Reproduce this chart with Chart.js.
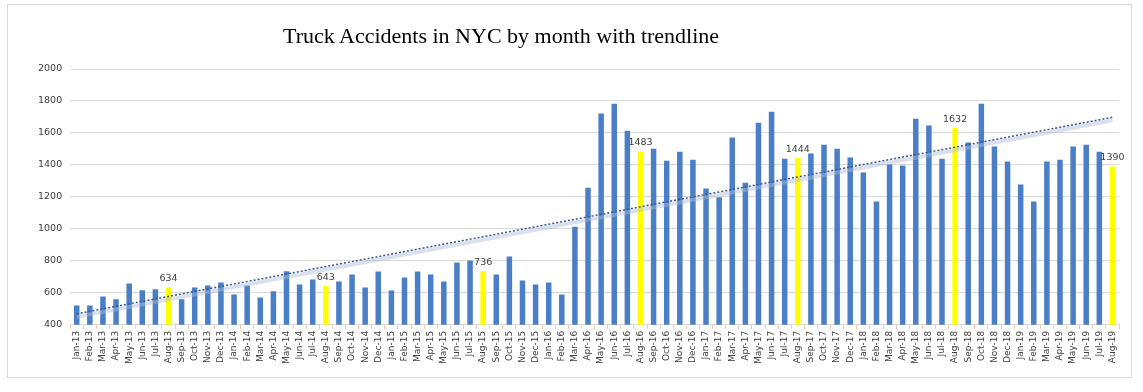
<!DOCTYPE html>
<html>
<head>
<meta charset="utf-8">
<script src="https://cdn.jsdelivr.net/npm/chart.js@4/dist/chart.umd.min.js"></script>
<style>
  html, body { margin: 0; padding: 0; background: #fff; }
  #wrap { position: relative; width: 1143px; height: 392px; }
  #frame { position: absolute; left: 7px; top: 4px; width: 1123px; height: 372px; border: 1px solid #d9d9d9; }
  #title {
    position: absolute; left: 283px; top: 23px;
    font-family: 'Liberation Serif', serif; font-size: 22px; color: #000;
    white-space: nowrap;
  }
  canvas { position: absolute; left: 0; top: 0; }
</style>
</head>
<body>
<div id="wrap">
  <div id="frame"></div>
  <canvas id="chart" width="1143" height="392"></canvas>
  <div id="title">Truck Accidents in NYC by month with trendline</div>
</div>
<script>
const months = ['Jan', 'Feb', 'Mar', 'Apr', 'May', 'Jun', 'Jul', 'Aug', 'Sep', 'Oct', 'Nov', 'Dec']
const years = ['13', '14', '15', '16', '17', '18', '19']

const labels = []
years.forEach((y) => {
  months.forEach((m) => {
    if (y === '19' && labels.length >= 80) return
    labels.push(`${m}-${y}`)
  })
})

const accidents2013 = [521, 521, 577, 560, 658, 617, 623, 634, 560, 633, 646, 665]
const accidents2014 = [590, 646, 571, 610, 735, 652, 683, 643, 671, 715, 633, 733]
const accidents2015 = [615, 696, 733, 715, 671, 790, 802, 736, 715, 827, 677, 652]
const accidents2016 = [665, 590, 1014, 1258, 1721, 1783, 1614, 1483, 1502, 1427, 1483, 1433]
const accidents2017 = [1252, 1198, 1571, 1289, 1664, 1733, 1439, 1444, 1471, 1527, 1502, 1446]
const accidents2018 = [1352, 1171, 1404, 1396, 1689, 1646, 1439, 1632, 1540, 1783, 1515, 1421]
const accidents2019 = [1277, 1171, 1421, 1433, 1515, 1527, 1483, 1390]

const accidents = [
  ...accidents2013, ...accidents2014, ...accidents2015, ...accidents2016,
  ...accidents2017, ...accidents2018, ...accidents2019,
]

const highlighted = ['Aug-13', 'Aug-14', 'Aug-15', 'Aug-16', 'Aug-17', 'Aug-18', 'Aug-19']

// trendline end points (first and last month)
const trendDotted = [469, 1698]
const trendBand = [450, 1679]

const yTicks = [400, 600, 800, 1000, 1200, 1400, 1600, 1800, 2000]

function endpoints(pair) {
  return labels.map((_, i) => (i === 0 ? pair[0] : i === labels.length - 1 ? pair[1] : null))
}

const barColors = labels.map((l) => (highlighted.includes(l) ? '#FFFF00' : '#4A7EC7'))

const valueLabels = {
  id: 'valueLabels',
  afterDatasetsDraw(chart) {
    const { ctx } = chart
    const meta = chart.getDatasetMeta(2)
    ctx.save()
    ctx.font = '9.5px "DejaVu Sans", sans-serif'
    ctx.fillStyle = '#404040'
    ctx.textAlign = 'center'
    ctx.textBaseline = 'bottom'
    meta.data.forEach((bar, i) => {
      if (!highlighted.includes(labels[i])) return
      ctx.fillText(String(accidents[i]), bar.x, bar.y - 4)
    })
    ctx.restore()
  },
}

new Chart(document.getElementById('chart'), {
  data: {
    labels,
    datasets: [
      {
        type: 'line',
        data: endpoints(trendDotted),
        borderColor: '#36578F',
        borderWidth: 1.5,
        borderDash: [2, 2],
        pointRadius: 0,
        spanGaps: true,
        order: 1,
      },
      {
        type: 'line',
        data: endpoints(trendBand),
        borderColor: 'rgba(175, 188, 212, 0.45)',
        borderWidth: 4,
        pointRadius: 0,
        spanGaps: true,
        order: 2,
      },
      {
        type: 'bar',
        data: accidents,
        backgroundColor: barColors,
        barPercentage: 0.42,
        categoryPercentage: 1,
        order: 3,
      },
    ],
  },
  options: {
    responsive: false,
    animation: false,
    layout: { padding: { left: 30, right: 24, top: 69, bottom: 26 } },
    plugins: {
      legend: { display: false },
      tooltip: { enabled: false },
    },
    scales: {
      x: {
        offset: true,
        grid: {
          offset: true,
          drawOnChartArea: false,
          drawTicks: true,
          tickLength: 4,
          color: '#f2c9a8',
        },
        border: { color: '#d9d9d9' },
        ticks: {
          autoSkip: false,
          maxRotation: 90,
          minRotation: 90,
          padding: 2,
          color: '#404040',
          font: { family: 'DejaVu Sans', size: 9 },
        },
      },
      y: {
        min: 400,
        max: 2000,
        afterBuildTicks: (scale) => {
          scale.ticks = yTicks.map((v) => ({ value: v }))
        },
        grid: { color: '#d9d9d9', drawTicks: false },
        border: { display: false },
        ticks: {
          padding: 8,
          color: '#404040',
          font: { family: 'DejaVu Sans', size: 9.5 },
          callback: (v) => String(v),
        },
      },
    },
  },
  plugins: [valueLabels],
})
</script>
</body>
</html>
